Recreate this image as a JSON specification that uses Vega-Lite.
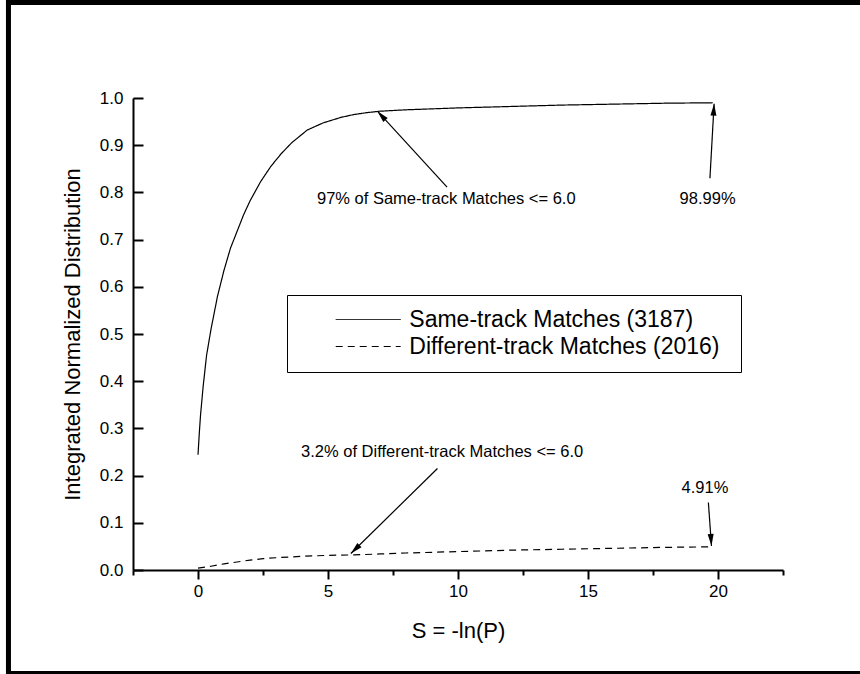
{
  "$schema": "https://vega.github.io/schema/vega-lite/v6.json",
  "width": 650,
  "height": 472,
  "autosize": "none",
  "padding": {"left": 133, "top": 98, "right": 77, "bottom": 104},
  "background": "white",
  "config": {"view": {"stroke": null}, "font": "Liberation Sans"},
  "datasets": {
    "curves": [
      {"x": 0, "y": 0.244, "series": "Same-track Matches (3187)"},
      {"x": 0.05, "y": 0.29, "series": "Same-track Matches (3187)"},
      {"x": 0.1, "y": 0.33, "series": "Same-track Matches (3187)"},
      {"x": 0.2, "y": 0.39, "series": "Same-track Matches (3187)"},
      {"x": 0.33, "y": 0.455, "series": "Same-track Matches (3187)"},
      {"x": 0.5, "y": 0.51, "series": "Same-track Matches (3187)"},
      {"x": 0.75, "y": 0.58, "series": "Same-track Matches (3187)"},
      {"x": 1.0, "y": 0.635, "series": "Same-track Matches (3187)"},
      {"x": 1.25, "y": 0.682, "series": "Same-track Matches (3187)"},
      {"x": 1.5, "y": 0.717, "series": "Same-track Matches (3187)"},
      {"x": 1.75, "y": 0.752, "series": "Same-track Matches (3187)"},
      {"x": 2.0, "y": 0.782, "series": "Same-track Matches (3187)"},
      {"x": 2.4, "y": 0.822, "series": "Same-track Matches (3187)"},
      {"x": 2.8, "y": 0.855, "series": "Same-track Matches (3187)"},
      {"x": 3.2, "y": 0.882, "series": "Same-track Matches (3187)"},
      {"x": 3.6, "y": 0.905, "series": "Same-track Matches (3187)"},
      {"x": 4.2, "y": 0.932, "series": "Same-track Matches (3187)"},
      {"x": 4.8, "y": 0.947, "series": "Same-track Matches (3187)"},
      {"x": 5.5, "y": 0.959, "series": "Same-track Matches (3187)"},
      {"x": 6.0, "y": 0.965, "series": "Same-track Matches (3187)"},
      {"x": 6.5, "y": 0.969, "series": "Same-track Matches (3187)"},
      {"x": 7.0, "y": 0.972, "series": "Same-track Matches (3187)"},
      {"x": 8.0, "y": 0.975, "series": "Same-track Matches (3187)"},
      {"x": 9.0, "y": 0.977, "series": "Same-track Matches (3187)"},
      {"x": 10.0, "y": 0.979, "series": "Same-track Matches (3187)"},
      {"x": 12.0, "y": 0.982, "series": "Same-track Matches (3187)"},
      {"x": 14.0, "y": 0.985, "series": "Same-track Matches (3187)"},
      {"x": 16.0, "y": 0.987, "series": "Same-track Matches (3187)"},
      {"x": 18.0, "y": 0.989, "series": "Same-track Matches (3187)"},
      {"x": 19.8, "y": 0.9899, "series": "Same-track Matches (3187)"},
      {"x": 0, "y": 0.004, "series": "Different-track Matches (2016)"},
      {"x": 0.5, "y": 0.008, "series": "Different-track Matches (2016)"},
      {"x": 1.0, "y": 0.013, "series": "Different-track Matches (2016)"},
      {"x": 1.5, "y": 0.017, "series": "Different-track Matches (2016)"},
      {"x": 2.0, "y": 0.021, "series": "Different-track Matches (2016)"},
      {"x": 2.5, "y": 0.024, "series": "Different-track Matches (2016)"},
      {"x": 3.0, "y": 0.026, "series": "Different-track Matches (2016)"},
      {"x": 4.0, "y": 0.029, "series": "Different-track Matches (2016)"},
      {"x": 5.0, "y": 0.031, "series": "Different-track Matches (2016)"},
      {"x": 6.0, "y": 0.032, "series": "Different-track Matches (2016)"},
      {"x": 7.0, "y": 0.034, "series": "Different-track Matches (2016)"},
      {"x": 8.0, "y": 0.036, "series": "Different-track Matches (2016)"},
      {"x": 10.0, "y": 0.039, "series": "Different-track Matches (2016)"},
      {"x": 12.0, "y": 0.042, "series": "Different-track Matches (2016)"},
      {"x": 14.0, "y": 0.044, "series": "Different-track Matches (2016)"},
      {"x": 16.0, "y": 0.046, "series": "Different-track Matches (2016)"},
      {"x": 18.0, "y": 0.048, "series": "Different-track Matches (2016)"},
      {"x": 19.8, "y": 0.0491, "series": "Different-track Matches (2016)"}
    ],
    "notes": [
      {"x": 9.55, "y": 0.786, "label": "97% of Same-track Matches <= 6.0"},
      {"x": 19.6, "y": 0.786, "label": "98.99%"},
      {"x": 9.39, "y": 0.25, "label": "3.2% of Different-track Matches <= 6.0"},
      {"x": 19.5, "y": 0.173, "label": "4.91%"}
    ],
    "arrows": [
      {"x0": 9.58, "y0": 0.811, "x": 6.9, "y": 0.972},
      {"x0": 19.69, "y0": 0.83, "x": 19.85, "y": 0.988},
      {"x0": 9.21, "y0": 0.215, "x": 5.88, "y": 0.035},
      {"x0": 19.63, "y0": 0.143, "x": 19.75, "y": 0.051}
    ]
  },
  "layer": [
    {
      "data": {"name": "curves"},
      "mark": {"type": "line", "color": "black", "strokeWidth": 1.2},
      "encoding": {
        "x": {
          "field": "x", "type": "quantitative",
          "scale": {"domain": [-2.5, 22.5], "nice": false, "zero": false},
          "axis": {
            "values": [-2.5, 0, 2.5, 5, 7.5, 10, 12.5, 15, 17.5, 20, 22.5],
            "format": "d",
            "labelExpr": "datum.value % 5 == 0 ? datum.label : ''",
            "tickSize": {"condition": {"test": "datum.value % 5 == 0", "value": 9}, "value": 5},
            "grid": false,
            "domainColor": "black", "domainWidth": 2,
            "tickColor": "black", "tickWidth": 2,
            "labelColor": "black", "labelFontSize": 17, "labelFont": "Liberation Sans",
            "labelPadding": 4, "labelOverlap": false, "labelFlush": false,
            "title": "S = -ln(P)", "titleFontSize": 22, "titleFontWeight": "normal",
            "titleColor": "black", "titleFont": "Liberation Sans", "titlePadding": 21
          }
        },
        "y": {
          "field": "y", "type": "quantitative",
          "scale": {"domain": [0, 1], "nice": false, "zero": false},
          "axis": {
            "values": [0, 0.05, 0.1, 0.15, 0.2, 0.25, 0.3, 0.35, 0.4, 0.45, 0.5, 0.55, 0.6, 0.65, 0.7, 0.75, 0.8, 0.85, 0.9, 0.95, 1.0],
            "format": ".1f",
            "labelExpr": "round(datum.value * 20) % 2 == 0 ? datum.label : ''",
            "tickSize": {"condition": {"test": "round(datum.value * 20) % 2 == 0", "value": -10}, "value": -6},
            "grid": false,
            "domainColor": "black", "domainWidth": 2,
            "tickColor": "black", "tickWidth": 2,
            "labelColor": "black", "labelFontSize": 17, "labelFont": "Liberation Sans",
            "labelPadding": 20, "labelOverlap": false, "labelFlush": false,
            "title": "Integrated Normalized Distribution", "titleFontSize": 22,
            "titleFontWeight": "normal", "titleColor": "black", "titleFont": "Liberation Sans",
            "titlePadding": 15
          }
        },
        "detail": {"field": "series"},
        "strokeDash": {
          "field": "series", "type": "nominal",
          "scale": {
            "domain": ["Same-track Matches (3187)", "Different-track Matches (2016)"],
            "range": [[1, 0], [7, 5]]
          },
          "legend": {
            "title": " ",
            "titleOrient": "right",
            "titleFontSize": 1,
            "titlePadding": 9,
            "orient": "none",
            "legendX": 154,
            "legendY": 197,
            "strokeColor": "black",
            "fillColor": "white",
            "padding": 13,
            "symbolType": "M-3,0L3,0",
            "symbolSize": 469,
            "symbolStrokeWidth": 1,
            "symbolStrokeColor": "black",
            "symbolFillColor": "transparent",
            "symbolOffset": 56.7,
            "labelOffset": 29.6,
            "labelFontSize": 23,
            "labelFont": "Liberation Sans",
            "labelColor": "black",
            "labelLimit": 0,
            "rowPadding": 3
          }
        }
      }
    },
    {
      "data": {"values": [{}]},
      "mark": {"type": "rect", "fill": null, "stroke": "black", "strokeWidth": 5},
      "encoding": {
        "x": {"datum": -7.29, "type": "quantitative", "scale": {"domain": [-2.5, 22.5], "nice": false, "zero": false}},
        "x2": {"datum": 25.7},
        "y": {"datum": 1.2023, "type": "quantitative", "scale": {"domain": [0, 1], "nice": false, "zero": false}},
        "y2": {"datum": -0.2193}
      }
    },
    {
      "data": {"name": "arrows"},
      "mark": {"type": "rule", "color": "black", "strokeWidth": 1.2},
      "encoding": {
        "x": {"field": "x0", "type": "quantitative", "scale": {"domain": [-2.5, 22.5], "nice": false, "zero": false}},
        "x2": {"field": "x"},
        "y": {"field": "y0", "type": "quantitative", "scale": {"domain": [0, 1], "nice": false, "zero": false}},
        "y2": {"field": "y"}
      }
    },
    {
      "data": {"name": "arrows"},
      "transform": [
        {"calculate": "atan2((datum.x - datum.x0) * 26, (datum.y - datum.y0) * 472) * 180 / PI", "as": "ang"}
      ],
      "mark": {"type": "point", "shape": "M0,0L0.5,2L-0.5,2Z", "filled": true, "color": "black", "opacity": 1, "size": 144},
      "encoding": {
        "x": {"field": "x", "type": "quantitative", "scale": {"domain": [-2.5, 22.5], "nice": false, "zero": false}},
        "y": {"field": "y", "type": "quantitative", "scale": {"domain": [0, 1], "nice": false, "zero": false}},
        "angle": {"field": "ang", "type": "quantitative", "scale": null}
      }
    },
    {
      "data": {"name": "notes"},
      "mark": {"type": "text", "align": "center", "baseline": "middle", "fontSize": 16.5, "font": "Liberation Sans", "color": "black"},
      "encoding": {
        "x": {"field": "x", "type": "quantitative", "scale": {"domain": [-2.5, 22.5], "nice": false, "zero": false}},
        "y": {"field": "y", "type": "quantitative", "scale": {"domain": [0, 1], "nice": false, "zero": false}},
        "text": {"field": "label"}
      }
    }
  ]
}
